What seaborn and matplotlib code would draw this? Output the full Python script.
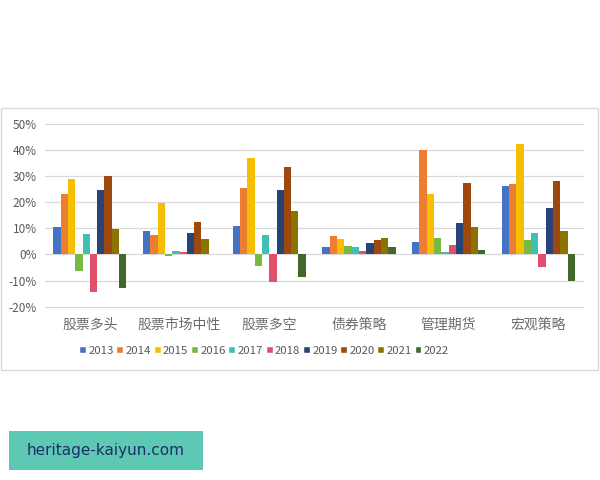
import numpy as np
import pandas as pd
import matplotlib
matplotlib.use("Agg")
import matplotlib.pyplot as plt
import seaborn as sns
from matplotlib.patches import Rectangle
from matplotlib.ticker import FuncFormatter

# Strategy categories and yearly returns (%)
strategies = ["股票多头", "股票市场中性", "股票多空", "债券策略", "管理期货", "宏观策略"]
years = ["2013", "2014", "2015", "2016", "2017", "2018", "2019", "2020", "2021", "2022"]

r2013 = [10.5, 8.8, 10.8, 2.9, 4.7, 26.3]
r2014 = [23.3, 7.5, 25.3, 7.0, 39.8, 26.9]
r2015 = [29.0, 19.8, 37.0, 6.0, 23.3, 42.2]
r2016 = [-6.2, -0.7, -4.3, 3.2, 6.3, 5.5]
r2017 = [7.8, 1.3, 7.3, 2.9, 1.0, 8.1]
r2018 = [-14.5, 0.8, -10.5, 1.3, 3.7, -4.7]
r2019 = [24.8, 8.3, 24.5, 4.5, 12.0, 17.8]
r2020 = [30.0, 12.3, 33.5, 5.5, 27.4, 28.3]
r2021 = [9.8, 6.0, 16.8, 6.3, 10.4, 9.1]
r2022 = [-13.0, 0.0, -8.7, 2.9, 1.9, -10.0]

colors = ["#4472C4", "#ED7D31", "#F5BE00", "#78B943", "#3EC1B1",
          "#E0506C", "#264478", "#9E480E", "#8B7300", "#43682B"]

series = [r2013, r2014, r2015, r2016, r2017, r2018, r2019, r2020, r2021, r2022]
rows = []
for year, vals in zip(years, series):
    for strat, v in zip(strategies, vals):
        rows.append({"strategy": strat, "year": year, "value": v})
df = pd.DataFrame(rows)

sns.set_style("white")
plt.rcParams["font.family"] = ["Noto Sans CJK SC", "DejaVu Sans"]

fig = plt.figure(figsize=(6, 4.8), dpi=100)
ax = fig.add_axes([0.075, 0.361, 0.897, 0.381])

sns.barplot(data=df, x="strategy", y="value", hue="year", order=strategies,
            hue_order=years, palette=colors, width=0.815, saturation=1,
            edgecolor="none", linewidth=0, ax=ax, legend=False)

ax.set_ylim(-20, 50)
ax.set_yticks(np.arange(-20, 51, 10))
ax.yaxis.set_major_formatter(FuncFormatter(lambda v, _: f"{v:.0f}%"))
ax.set_xlabel("")
ax.set_ylabel("")
ax.grid(axis="y", color="#d9d9d9", linewidth=0.9)
for gl in ax.get_ygridlines():
    gl.set_clip_on(False)
ax.set_axisbelow(True)
for s in ax.spines.values():
    s.set_visible(False)
ax.tick_params(axis="both", length=0)
ax.tick_params(axis="x", labelsize=10, pad=8, colors="#6b6b6b")
ax.tick_params(axis="y", labelsize=8.5, pad=6, colors="#595959")

# legend
handles = [Rectangle((0, 0), 1, 1, facecolor=c) for c in colors]
fig.legend(handles, years, loc="center", bbox_to_anchor=(0.44, 0.269), ncol=10,
           frameon=False, fontsize=8.2, handlelength=0.6, handleheight=0.6,
           handletextpad=0.2, columnspacing=0.25, labelcolor="#595959")

# chart border
fig.patches.append(Rectangle((0.002, 1 - 370 / 480), 0.995, (370 - 108) / 480,
                             transform=fig.transFigure, fill=False,
                             edgecolor="#d9d9d9", linewidth=1))

# watermark box
fig.patches.append(Rectangle((9 / 600, 1 - 470 / 480), 194 / 600, 39 / 480,
                             transform=fig.transFigure, facecolor="#5DC8B4",
                             edgecolor="none"))
fig.text(106 / 600, 1 - 450.5 / 480, "heritage-kaiyun.com", ha="center", va="center",
         fontsize=11, color="#1F2D6B", family=["DejaVu Sans"])

fig.savefig("out.png", dpi=100)
